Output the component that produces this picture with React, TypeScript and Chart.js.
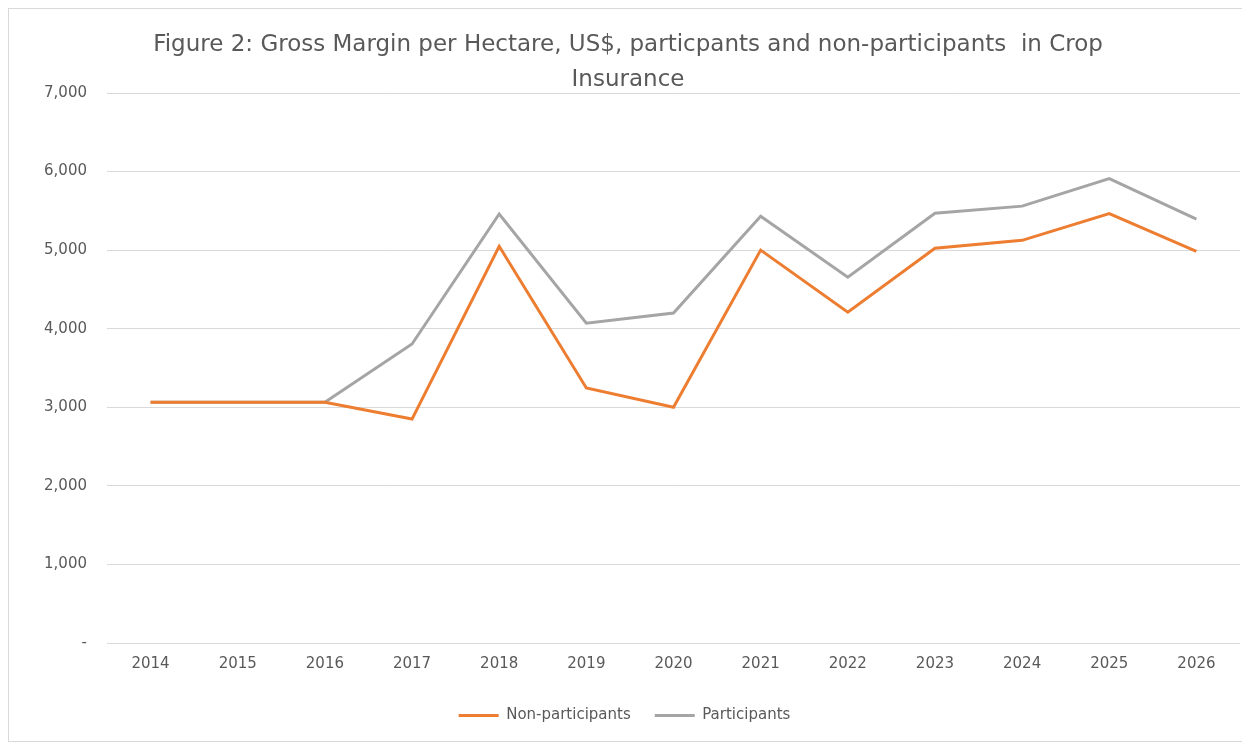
import React, { useEffect, useRef } from "react";
import { Chart, registerables } from "chart.js";

Chart.register(...registerables);

const years = ["2014", "2015", "2016", "2017", "2018", "2019", "2020", "2021", "2022", "2023", "2024", "2025", "2026"];
const nonParticipants = [3065, 3065, 3065, 2850, 5050, 3245, 3000, 5000, 4210, 5025, 5125, 5465, 4985];
const participants = [3065, 3065, 3065, 3805, 5460, 4070, 4200, 5430, 4655, 5470, 5560, 5910, 5395];
const titleLines = [
  "Figure 2: Gross Margin per Hectare, US$, particpants and non-participants  in Crop",
  "Insurance",
];
const seriesNames = ["Non-participants", "Participants"];

const FONT = "'DejaVu Sans', sans-serif";
const TEXT = "#595959";

const titlePlugin = {
  id: "customTitle",
  afterDraw(chart: any) {
    const ctx = chart.ctx;
    ctx.save();
    ctx.fillStyle = TEXT;
    ctx.font = `23px ${FONT}`;
    ctx.textAlign = "center";
    ctx.textBaseline = "middle";
    const cx = chart.width / 2;
    ctx.fillText(titleLines[0], cx, 36);
    ctx.fillText(titleLines[1], cx, 71);
    ctx.restore();
  },
};

export default function App() {
  const ref = useRef<HTMLCanvasElement>(null);
  useEffect(() => {
    if (!ref.current) return;
    const chart = new Chart(ref.current, {
      type: "line",
      data: {
        labels: years,
        datasets: [
          {
            label: seriesNames[0],
            data: nonParticipants,
            borderColor: "#ED7D31",
            backgroundColor: "#ED7D31",
            borderWidth: 3,
            pointRadius: 0,
            tension: 0,
          },
          {
            label: seriesNames[1],
            data: participants,
            borderColor: "#A5A5A5",
            backgroundColor: "#A5A5A5",
            borderWidth: 3,
            pointRadius: 0,
            tension: 0,
          },
        ],
      },
      options: {
        animation: false,
        responsive: true,
        maintainAspectRatio: false,
        layout: { padding: { top: 84, right: 7, left: 0, bottom: 8 } },
        plugins: {
          title: { display: false },
          tooltip: { enabled: false },
          legend: {
            position: "bottom",
            labels: {
              usePointStyle: true,
              pointStyle: "line",
              pointStyleWidth: 40,
              color: TEXT,
              font: { family: FONT, size: 15 },
              padding: 24,
            },
          },
        },
        scales: {
          x: {
            offset: true,
            grid: { display: false, drawTicks: false },
            border: { display: false },
            ticks: { color: TEXT, font: { family: FONT, size: 15 }, padding: 12, maxRotation: 0 },
            afterFit: (s: any) => {
              s.height = 41;
            },
          },
          y: {
            min: 0,
            max: 7000,
            grid: { color: "#d9d9d9", lineWidth: 1, drawTicks: false },
            border: { display: false },
            ticks: {
              stepSize: 1000,
              color: TEXT,
              font: { family: FONT, size: 15 },
              padding: 20,
              callback: (v: any) => (Number(v) === 0 ? "-" : Number(v).toLocaleString("en-US")),
            },
            afterFit: (s: any) => {
              s.width = 98;
            },
          },
        },
      },
      plugins: [titlePlugin],
    });
    return () => chart.destroy();
  }, []);
  return (
    <div
      style={{
        width: 1240,
        height: 734,
        border: "1px solid #d9d9d9",
        boxSizing: "border-box",
        position: "relative",
        background: "#fff",
      }}
    >
      <canvas ref={ref} />
    </div>
  );
}
